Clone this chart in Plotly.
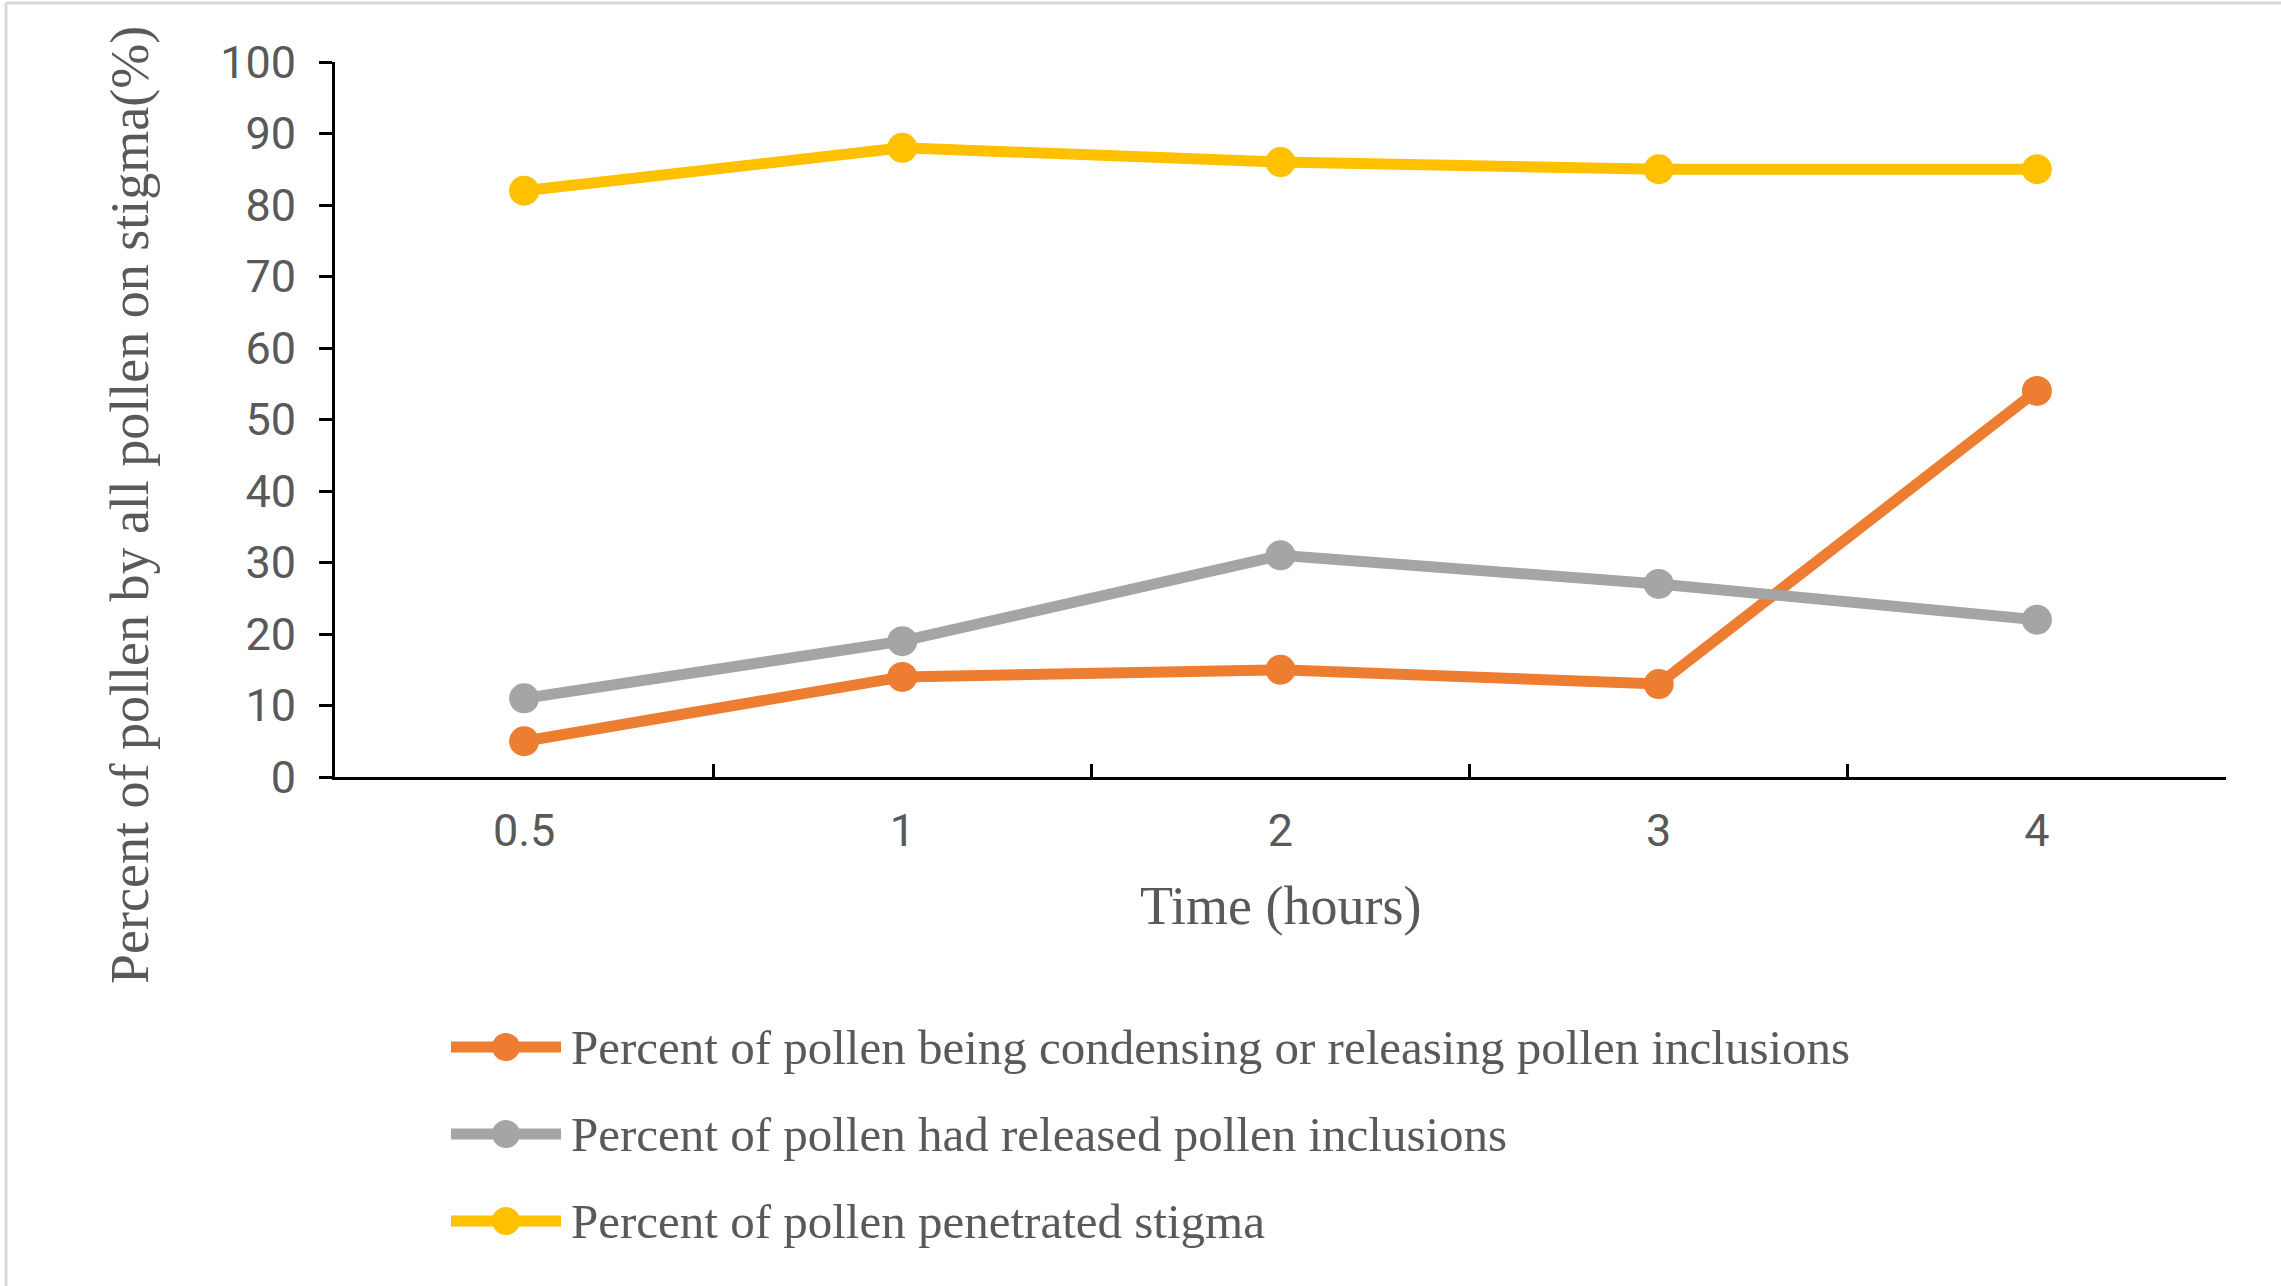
import plotly.graph_objects as go

# ---- data ----
time_labels = ["0.5", "1", "2", "3", "4"]
condensing_releasing = [5, 14, 15, 13, 54]
released_inclusions = [11, 19, 31, 27, 22]
penetrated_stigma = [82, 88, 86, 85, 85]

series_names = [
    "Percent of pollen being condensing or releasing pollen inclusions",
    "Percent of pollen had released pollen inclusions",
    "Percent of pollen penetrated stigma",
]
series_values = [condensing_releasing, released_inclusions, penetrated_stigma]
series_colors = ["#ED7D31", "#A5A5A5", "#FFC000"]

y_ticks = list(range(0, 101, 10))

W, H = 2281, 1286
L, R, T, B = 335, 55, 62, 509
PW, PH = W - L - R, H - T - B


def px_x(px):
    return (px - L) / PW


def px_y(py):
    return (H - B - py) / PH


fig = go.Figure()
for name, vals, col in zip(series_names, series_values, series_colors):
    fig.add_trace(go.Scatter(
        x=time_labels, y=vals, name=name, mode="lines+markers",
        line=dict(color=col, width=11),
        marker=dict(color=col, size=30),
        showlegend=False,
        cliponaxis=False,
    ))

gray_text = "#595959"

# custom legend (Excel-style long line symbol with centred marker)
legend_rows = [1047, 1134, 1221]
shapes = [
    dict(type="line", xref="paper", yref="paper",
         x0=px_x(6), x1=px_x(2281), y0=px_y(3), y1=px_y(3),
         line=dict(color="#D9D9D9", width=3)),
    dict(type="line", xref="paper", yref="paper",
         x0=px_x(6), x1=px_x(6), y0=px_y(3), y1=px_y(1286),
         line=dict(color="#D9D9D9", width=3)),
]
annotations = [
    dict(text="Time (hours)", xref="paper", yref="paper",
         x=0.5, y=px_y(906), xanchor="center", yanchor="middle",
         showarrow=False, font=dict(family="Liberation Serif", size=54, color=gray_text)),
    dict(text="Percent of pollen by all pollen on stigma(%)", xref="paper", yref="paper",
         x=px_x(130), y=px_y(505), xanchor="center", yanchor="middle",
         textangle=-90, showarrow=False,
         font=dict(family="Liberation Serif", size=54, color=gray_text)),
]
for name, col, ry in zip(series_names, series_colors, legend_rows):
    shapes.append(dict(type="line", xref="paper", yref="paper",
                       x0=px_x(451), x1=px_x(561), y0=px_y(ry), y1=px_y(ry),
                       line=dict(color=col, width=11)))
    shapes.append(dict(type="circle", xref="paper", yref="paper",
                       x0=px_x(506 - 14), x1=px_x(506 + 14),
                       y0=px_y(ry - 14), y1=px_y(ry + 14),
                       fillcolor=col, line=dict(color=col, width=0)))
    annotations.append(dict(text=name, xref="paper", yref="paper",
                            x=px_x(569), y=px_y(ry), xanchor="left", yanchor="middle",
                            showarrow=False,
                            font=dict(family="Liberation Serif", size=49, color=gray_text)))

fig.update_layout(
    width=W, height=H,
    margin=dict(l=L, r=R, t=T, b=B, pad=0),
    paper_bgcolor="white", plot_bgcolor="white",
    showlegend=False,
    xaxis=dict(
        type="category", range=[-0.5, 4.5],
        showline=True, linecolor="black", linewidth=3,
        ticks="inside", tickson="boundaries", ticklen=13, tickwidth=3, tickcolor="black",
        tickfont=dict(family="Roboto", size=45, color=gray_text),
        ticklabelstandoff=12,
        showgrid=False, zeroline=False,
    ),
    yaxis=dict(
        range=[0, 100], tickvals=y_ticks,
        showline=True, linecolor="black", linewidth=3,
        ticks="outside", ticklen=13, tickwidth=3, tickcolor="black",
        tickfont=dict(family="Roboto", size=45, color=gray_text),
        ticklabelstandoff=14,
        showgrid=False, zeroline=False,
    ),
    annotations=annotations,
    shapes=shapes,
)

fig.write_html("out.html")
